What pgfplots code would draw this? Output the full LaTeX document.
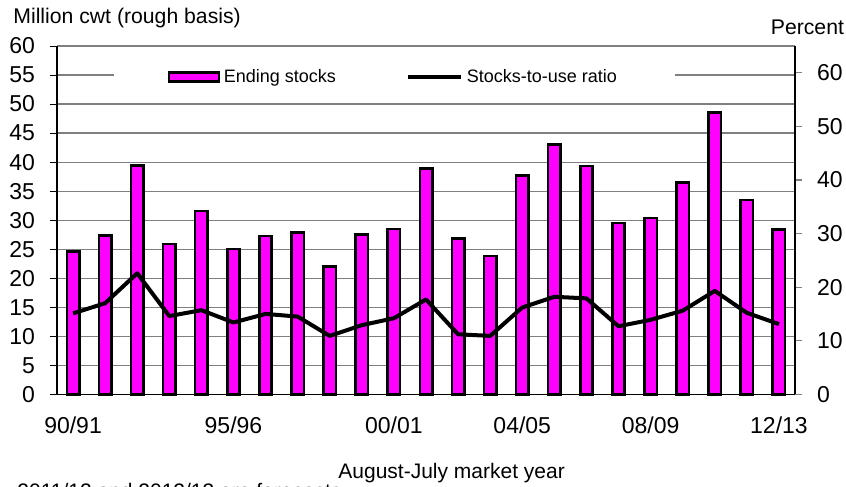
\documentclass[border=0pt]{standalone}
\usepackage{pgfplots}
\pgfplotsset{compat=1.18}
\usepackage{fontspec}
\setmainfont{Liberation Sans}
\definecolor{barmag}{RGB}{255,0,255}
\definecolor{gridgray}{RGB}{128,128,128}
\begin{document}
\begin{tikzpicture}[x=1pt,y=1pt]
\begin{axis}[
  at={(28.5pt,46.35pt)}, anchor=south west,
  scale only axis, width=369pt, height=174.15pt,
  xmin=-0.5, xmax=22.5, ymin=0, ymax=60,
  axis x line*=bottom, axis y line*=left,
  x axis line style={-, black, line width=0.6pt},
  y axis line style={-, black, line width=0.6pt},
  ytick={0,5,...,60},
  xtick={0,5,10,14,18,22},
  xticklabels={90/91,95/96,00/01,04/05,08/09,12/13},
  major x tick style={draw=none},
  extra x ticks={-0.5,0.5,...,22.5},
  extra x tick labels={},
  extra x tick style={major tick length=3.5pt, tick style={black, line width=0.5pt}, grid=none},
  tick align=outside,
  major tick length=3.5pt,
  ytick style={black, line width=0.5pt},
  ymajorgrids,
  grid style={gridgray, line width=0.6pt},
  /pgf/number format/assume math mode=true,
  tick label style={font=\fontsize{11.5}{13}\selectfont},
  yticklabel style={xshift=-4pt},
  xticklabel style={yshift=-4pt},
  ybar, bar width=6.2pt,
  clip=false,
]
\addplot[fill=barmag, draw=black, line width=1.3pt] coordinates {
(0,24.6) (1,27.4) (2,39.4) (3,25.9) (4,31.6) (5,25.0) (6,27.3) (7,27.9)
(8,22.0) (9,27.5) (10,28.5) (11,38.9) (12,26.8) (13,23.8) (14,37.7) (15,43.0)
(16,39.3) (17,29.5) (18,30.4) (19,36.5) (20,48.5) (21,33.5) (22,28.4)};
\end{axis}
\begin{axis}[
  at={(28.5pt,46.35pt)}, anchor=south west,
  scale only axis, width=369pt, height=174.15pt,
  xmin=-0.5, xmax=22.5, ymin=0, ymax=65,
  axis x line=none, axis y line*=right,
  y axis line style={-, black, line width=0.6pt},
  ytick={0,10,...,60},
  tick align=outside, major tick length=3.5pt,
  ytick style={gridgray, line width=0.6pt},
  /pgf/number format/assume math mode=true,
  tick label style={font=\fontsize{11.5}{13}\selectfont},
  yticklabel style={xshift=4pt},
  legend columns=2,
  legend style={at={(0.457,0.911)}, anchor=center, draw=none, fill=white,
    inner xsep=27pt, inner ysep=3pt, font=\fontsize{9}{11}\selectfont,
    /tikz/every even column/.append style={column sep=33pt}},
]
\addlegendimage{legend image code/.code={\draw[fill=barmag, draw=black, line width=1.1pt] (0pt,-2.25pt) rectangle (25pt,2.25pt);}}
\addlegendentry{Ending stocks}
\addplot[black, line width=2pt, mark=none, line join=round,
  legend image code/.code={\draw[black, line width=2pt] (0pt,0pt) -- (26.5pt,0pt);}] coordinates {
(0,15.1) (1,17.0) (2,22.6) (3,14.6) (4,15.7) (5,13.4) (6,15.0) (7,14.5)
(8,10.9) (9,12.9) (10,14.2) (11,17.7) (12,11.2) (13,10.9) (14,16.2) (15,18.2)
(16,17.9) (17,12.7) (18,13.9) (19,15.6) (20,19.3) (21,15.2) (22,13.1)};
\addlegendentry{Stocks-to-use ratio}
\end{axis}
\node[anchor=base west, font=\fontsize{10.6}{12}\selectfont, inner sep=0pt] at (6.5,231.5) {Million cwt (rough basis)};
\node[anchor=base west, font=\fontsize{10.6}{12}\selectfont, inner sep=0pt] at (385.25,226) {Percent};
\node[anchor=base west, font=\fontsize{10.5}{12}\selectfont, inner sep=0pt] at (169,4) {August-July market year};
\node[anchor=base west, font=\fontsize{10.5}{12}\selectfont, inner sep=0pt] at (8.5,-5.75) {2011/12 and 2012/13 are forecasts};
\pgfresetboundingbox
\path[use as bounding box] (0,0) rectangle (423,243.5);
\end{tikzpicture}
\end{document}
